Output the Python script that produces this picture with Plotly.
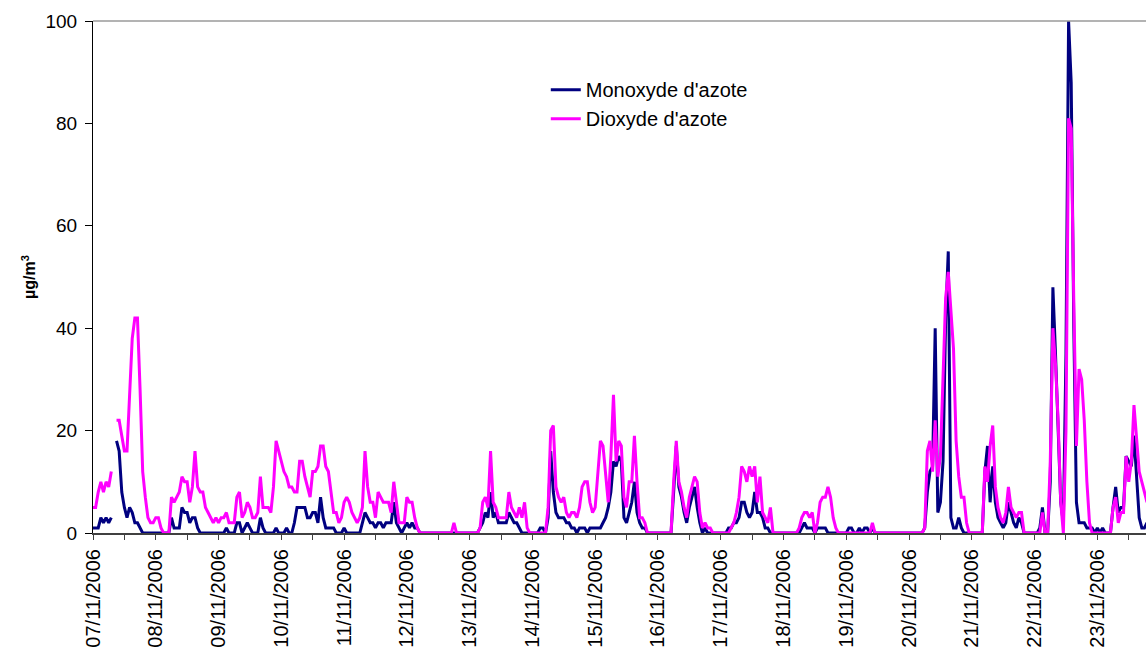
import pandas as pd
import plotly.graph_objects as go

# Hourly values (µg/m3), one list of 24 per day, from 07/11/2006 00h
no_d07 = [1,1,1,3,2,3,2,3,None,18,16,8,5,3,5,4,2,2,1,0,0,0,0,0]
no_d08 = [0,0,0,0,0,0,3,1,1,1,5,4,4,2,3,3,1,0,0,0,0,0,0,0]
no_d09 = [0,0,0,1,0,0,0,2,2,0,1,2,1,0,0,0,3,1,0,0,0,0,1,0]
no_d10 = [0,0,1,0,0,2,5,5,5,5,3,3,4,4,2,7,3,1,1,1,1,0,0,0]
no_d11 = [1,0,0,0,0,0,0,2,4,3,2,2,1,2,2,1,2,2,2,6,2,1,0,1]
no_d12 = [2,1,2,1,1,0,0,0,0,0,0,0,0,0,0,0,0,0,0,0,0,0,0,0]
no_d13 = [0,0,0,0,1,2,4,3,8,3,4,2,2,2,2,4,3,2,2,1,0,0,0,0]
no_d14 = [0,0,0,1,1,0,3,16,8,4,3,3,3,2,2,1,1,0,1,1,1,0,1,1]
no_d15 = [1,1,1,2,3,5,8,14,13,15,14,3,2,4,6,10,4,2,1,1,0,0,0,0]
no_d16 = [0,0,0,0,0,0,8,17,9,7,4,2,5,7,9,5,2,0,1,0,0,0,0,0]
no_d17 = [0,0,0,1,1,2,2,3,6,6,4,3,4,8,4,4,3,1,1,0,0,0,0,0]
no_d18 = [0,0,0,0,0,0,0,1,2,1,1,1,0,1,1,1,1,0,0,0,0,0,0,0]
no_d19 = [0,1,1,0,0,1,0,1,1,0,1,0,0,0,0,0,0,0,0,0,0,0,0,0]
no_d20 = [0,0,0,0,0,0,1,8,12,13,40,4,6,14,42,55,3,1,1,3,1,0,0,0]
no_d21 = [0,0,0,0,0,12,17,6,13,6,3,2,1,2,6,4,2,1,3,2,0,0,0,0]
no_d22 = [0,0,1,5,0,0,10,48,35,22,6,2,35,100,88,40,6,2,2,2,1,1,1,0]
no_d23 = [1,0,1,0,0,0,5,9,4,5,5,15,14,13,19,10,3,1,1,2]

no2_d07 = [5,5,8,10,8,10,9,12,None,22,22,19,16,16,27,38,42,42,28,12,7,3,2,2]
no2_d08 = [3,3,1,0,0,0,7,6,7,8,11,10,10,6,9,16,9,8,8,5,4,3,2,3]
no2_d09 = [2,3,3,4,2,2,2,7,8,3,4,6,5,3,3,4,11,5,5,5,4,9,18,16]
no2_d10 = [14,12,11,9,9,8,8,14,14,11,9,7,12,12,13,17,17,13,12,8,4,4,2,3]
no2_d11 = [6,7,6,4,3,2,3,5,16,9,6,6,3,8,7,6,6,6,4,10,6,2,2,2]
no2_d12 = [7,6,6,3,1,0,0,0,0,0,0,0,0,0,0,0,0,0,2,0,0,0,0,0]
no2_d13 = [0,0,0,0,1,6,7,5,16,6,5,3,3,3,3,8,5,4,3,5,3,6,1,0]
no2_d14 = [0,0,0,0,0,0,5,20,21,9,7,6,7,4,3,4,4,3,5,9,10,10,6,4]
no2_d15 = [5,12,18,17,12,6,15,27,14,18,17,7,5,10,10,19,10,3,3,2,0,0,0,0]
no2_d16 = [0,0,0,0,0,0,10,18,10,8,5,3,7,9,11,10,4,1,2,1,1,0,0,0]
no2_d17 = [0,0,0,0,1,2,4,7,13,12,10,13,11,13,6,11,4,3,2,5,0,0,0,0]
no2_d18 = [0,0,0,0,0,0,1,3,4,4,3,4,0,2,6,7,7,9,7,3,1,0,0,0]
no2_d19 = [0,0,0,0,0,0,0,0,0,0,2,0,0,0,0,0,0,0,0,0,0,0,0,0]
no2_d20 = [0,0,0,0,0,0,1,16,18,12,22,11,15,33,46,51,44,36,18,11,7,7,2,0]
no2_d21 = [0,0,0,0,0,13,10,17,21,9,5,3,2,4,9,5,4,3,4,4,0,0,0,0]
no2_d22 = [0,0,0,4,0,0,14,40,33,22,6,0,20,81,79,45,17,32,30,22,10,2,0,0]
no2_d23 = [0,0,0,0,0,0,5,7,2,4,4,15,10,14,25,19,12,10,8,6]

series_names = ["Monoxyde d'azote", "Dioxyde d'azote"]
series_colors = ["#000080", "#FF00FF"]
y_title = "<b>µg/m<sup>3</sup></b>"
start = "2006-11-07 00:00"

no_vals = (no_d07 + no_d08 + no_d09 + no_d10 + no_d11 + no_d12 + no_d13 + no_d14 +
           no_d15 + no_d16 + no_d17 + no_d18 + no_d19 + no_d20 + no_d21 + no_d22 + no_d23)
no2_vals = (no2_d07 + no2_d08 + no2_d09 + no2_d10 + no2_d11 + no2_d12 + no2_d13 + no2_d14 +
            no2_d15 + no2_d16 + no2_d17 + no2_d18 + no2_d19 + no2_d20 + no2_d21 + no2_d22 + no2_d23)

times = pd.date_range(start, periods=len(no_vals), freq="h")

FONT = "Arial, 'Liberation Sans', sans-serif"

fig = go.Figure()
fig.add_trace(go.Scatter(x=times, y=no_vals, mode="lines", name=series_names[0],
                         line=dict(color=series_colors[0], width=3)))
fig.add_trace(go.Scatter(x=times, y=no2_vals, mode="lines", name=series_names[1],
                         line=dict(color=series_colors[1], width=3)))

end = pd.Timestamp(start) + pd.Timedelta(hours=402.6)

fig.update_layout(
    width=1146, height=648,
    margin=dict(l=93, r=0, t=21, b=115),
    paper_bgcolor="white", plot_bgcolor="white",
    font=dict(family=FONT, size=19, color="black"),
    showlegend=True,
    legend=dict(x=0.430, y=0.904, xanchor="left", yanchor="top",
                bgcolor="rgba(0,0,0,0)", font=dict(size=20, family=FONT),
                traceorder="normal"),
    xaxis=dict(
        type="date",
        range=[pd.Timestamp(start), end],
        tick0=start, dtick=86400000,
        tickformat="%d/%m/%Y", tickangle=-90,
        ticks="outside", ticklen=5, tickcolor="#404040",
        tickfont=dict(size=20, family=FONT),
        showgrid=False, zeroline=False,
        showline=True, linecolor="#404040", linewidth=2,
        minor=dict(dtick=43200000, ticks="outside", ticklen=5, tickcolor="#404040", showgrid=False),
        ticklabelstandoff=1,
    ),
    yaxis=dict(
        range=[0, 100], dtick=20, tick0=0,
        ticks="outside", ticklen=7, tickcolor="black",
        tickfont=dict(size=19, family=FONT),
        showgrid=False, zeroline=False,
        showline=True, linecolor="black", linewidth=1,
        ticklabelstandoff=4,
        title=dict(text=y_title, font=dict(size=16, family=FONT), standoff=5),
    ),
    shapes=[dict(type="line", xref="paper", yref="paper", x0=0, x1=1, y0=1, y1=1,
                 line=dict(color="#9a9a9a", width=1.5))],
)

fig.write_html("out.html")
